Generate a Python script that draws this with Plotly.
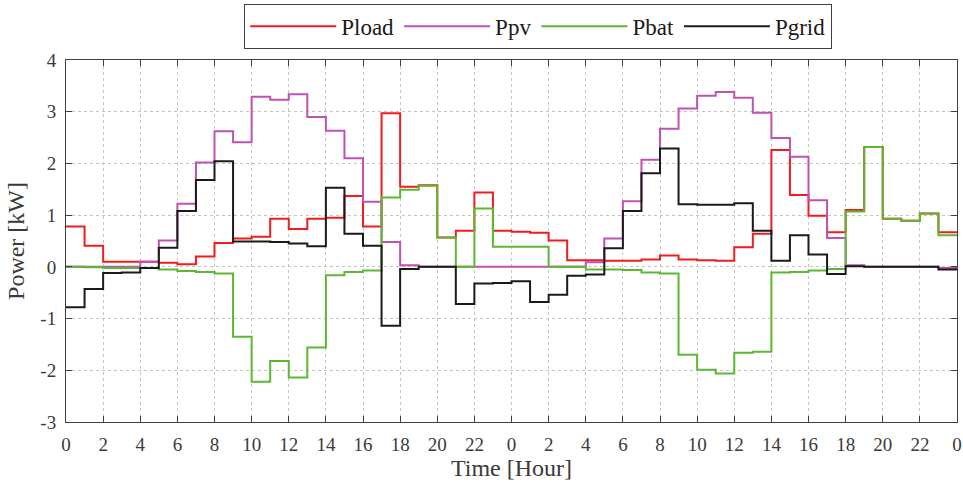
import plotly.graph_objects as go

hours = list(range(49))
tick_vals = list(range(0, 49, 2))
tick_text = [str(h % 24) for h in tick_vals]
y_tick_vals = list(range(-3, 5))
y_tick_text = [str(v) for v in y_tick_vals]

p_load = [0.78, 0.41, 0.10, 0.10, 0.10, 0.08, 0.05, 0.20, 0.46, 0.55, 0.58, 0.93,
          0.73, 0.93, 0.95, 1.37, 0.78, 2.97, 1.55, 1.58, 0.57, 0.70, 1.44, 0.70,
          0.68, 0.66, 0.51, 0.13, 0.13, 0.12, 0.12, 0.14, 0.22, 0.14, 0.13, 0.12,
          0.38, 0.64, 2.26, 1.39, 0.99, 0.67, 1.10, 2.32, 0.93, 0.89, 1.03, 0.67]
p_pv = [0.0, 0.0, 0.0, 0.0, 0.10, 0.51, 1.22, 2.02, 2.62, 2.41, 3.29, 3.23,
        3.34, 2.90, 2.63, 2.10, 1.26, 0.48, 0.03, 0.0, 0.0, 0.0, 0.0, 0.0,
        0.0, 0.0, 0.0, 0.0, 0.09, 0.55, 1.27, 2.07, 2.67, 3.06, 3.31, 3.38,
        3.27, 2.98, 2.49, 2.13, 1.29, 0.56, 0.03, 0.0, 0.0, 0.0, 0.0, -0.02]
p_bat = [0.0, -0.01, -0.02, -0.02, -0.02, -0.05, -0.08, -0.10, -0.13, -1.35, -2.22, -1.82,
         -2.14, -1.56, -0.16, -0.10, -0.07, 1.34, 1.49, 1.57, 0.57, 0.0, 1.13, 0.39,
         0.39, 0.39, 0.0, 0.0, -0.05, -0.05, -0.06, -0.11, -0.13, -1.70, -1.99, -2.06,
         -1.66, -1.64, -0.11, -0.10, -0.07, -0.04, 1.07, 2.32, 0.93, 0.89, 1.03, 0.61]
p_grid = [-0.78, -0.43, -0.12, -0.11, -0.02, 0.37, 1.08, 1.68, 2.04, 0.49, 0.49, 0.48,
          0.45, 0.40, 1.53, 0.64, 0.41, -1.14, -0.04, 0.0, 0.0, -0.72, -0.32, -0.31,
          -0.28, -0.68, -0.54, -0.17, -0.15, 0.36, 1.08, 1.81, 2.29, 1.21, 1.20, 1.20,
          1.23, 0.70, 0.12, 0.61, 0.24, -0.14, 0.01, 0.0, 0.0, 0.0, 0.0, -0.05]

series = [
    ("Pload", p_load, "#f21c1c"),
    ("Ppv", p_pv, "#c052b4"),
    ("Pbat", p_bat, "#5cb833"),
    ("Pgrid", p_grid, "#1a1a1a"),
]

fig = go.Figure()
for name, vals, color in series:
    fig.add_trace(go.Scatter(
        x=hours, y=vals + [vals[-1]], mode="lines", name=name,
        line=dict(color=color, width=2, shape="hv"),
    ))

serif = "Liberation Serif, Times New Roman, serif"
text_col = "#3a3a3a"
axis_common = dict(
    showline=True, linecolor="#404040", linewidth=1, mirror="ticks",
    ticks="inside", ticklen=6, tickcolor="#404040",
    showgrid=True, gridcolor="#c4c4c4", griddash="dot", gridwidth=1,
    zeroline=False,
    tickfont=dict(family=serif, size=19, color=text_col),
)

fig.update_layout(
    width=963, height=492,
    margin=dict(l=66, r=6, t=60, b=70, autoexpand=False),
    plot_bgcolor="white", paper_bgcolor="white",
    font=dict(family=serif, color=text_col),
    showlegend=True,
    legend=dict(
        orientation="h", x=0.530, xanchor="center", y=1.155, yanchor="top",
        bordercolor="#404040", borderwidth=1, bgcolor="white",
        font=dict(family=serif, size=23, color="#1a1a1a"),
        itemwidth=86, tracegroupgap=0,
    ),
    xaxis=dict(axis_common, range=[0, 48], tickvals=tick_vals, ticktext=tick_text,
               ticklabelstandoff=5,
               title=dict(text="Time [Hour]", font=dict(family=serif, size=24, color=text_col), standoff=4)),
    yaxis=dict(axis_common, range=[-3, 4], tickvals=y_tick_vals, ticktext=y_tick_text,
               ticklabelstandoff=5,
               title=dict(text="Power [kW]", font=dict(family=serif, size=24, color=text_col), standoff=8)),
)

fig.write_html("out.html")
